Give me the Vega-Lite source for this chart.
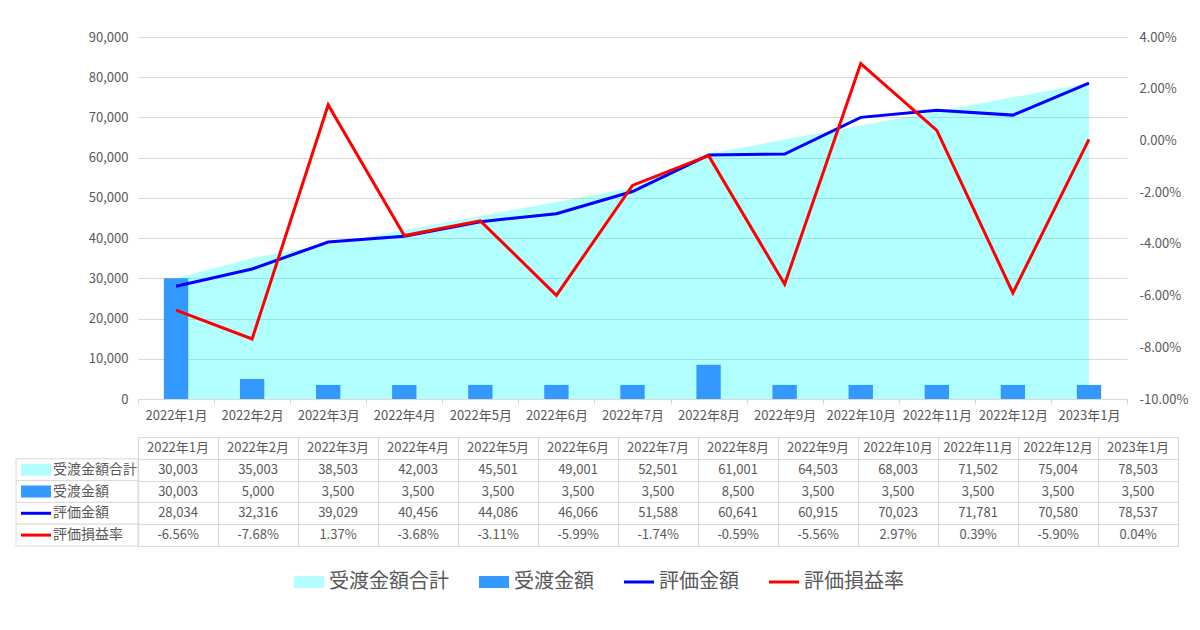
{
  "$schema": "https://vega.github.io/schema/vega-lite/v6.json",
  "background": "#FFFFFF",
  "padding": {"left": 15, "top": 31, "right": 5, "bottom": 5},
  "datasets": {
    "monthly": [
      {"月": "2022年1月", "受渡金額合計": 30003, "受渡金額": 30003, "評価金額": 28034, "評価損益率": -0.0656},
      {"月": "2022年2月", "受渡金額合計": 35003, "受渡金額": 5000, "評価金額": 32316, "評価損益率": -0.0768},
      {"月": "2022年3月", "受渡金額合計": 38503, "受渡金額": 3500, "評価金額": 39029, "評価損益率": 0.0137},
      {"月": "2022年4月", "受渡金額合計": 42003, "受渡金額": 3500, "評価金額": 40456, "評価損益率": -0.0368},
      {"月": "2022年5月", "受渡金額合計": 45501, "受渡金額": 3500, "評価金額": 44086, "評価損益率": -0.0311},
      {"月": "2022年6月", "受渡金額合計": 49001, "受渡金額": 3500, "評価金額": 46066, "評価損益率": -0.0599},
      {"月": "2022年7月", "受渡金額合計": 52501, "受渡金額": 3500, "評価金額": 51588, "評価損益率": -0.0174},
      {"月": "2022年8月", "受渡金額合計": 61001, "受渡金額": 8500, "評価金額": 60641, "評価損益率": -0.0059},
      {"月": "2022年9月", "受渡金額合計": 64503, "受渡金額": 3500, "評価金額": 60915, "評価損益率": -0.0556},
      {"月": "2022年10月", "受渡金額合計": 68003, "受渡金額": 3500, "評価金額": 70023, "評価損益率": 0.0297},
      {"月": "2022年11月", "受渡金額合計": 71502, "受渡金額": 3500, "評価金額": 71781, "評価損益率": 0.0039},
      {"月": "2022年12月", "受渡金額合計": 75004, "受渡金額": 3500, "評価金額": 70580, "評価損益率": -0.059},
      {"月": "2023年1月", "受渡金額合計": 78503, "受渡金額": 3500, "評価金額": 78537, "評価損益率": 0.0004}
    ],
    "series": [
      {"name": "受渡金額合計"},
      {"name": "受渡金額"},
      {"name": "評価金額"},
      {"name": "評価損益率"}
    ]
  },
  "columns": 2,
  "spacing": {"row": 38, "column": 0},
  "bounds": "flush",
  "concat": [
    {
      "width": 122,
      "height": 362,
      "data": {"name": "series"},
      "transform": [{"filter": "false"}],
      "mark": {"type": "point", "opacity": 0}
    },
    {
      "width": 989,
      "height": 362,
      "data": {"name": "monthly"},
      "layer": [
        {
          "layer": [
            {
              "mark": {"type": "area", "color": "#00FFFF", "opacity": 0.3},
              "encoding": {
                "x": {
                  "field": "月", "type": "ordinal", "sort": null,
                  "scale": {"type": "band", "paddingInner": 0, "paddingOuter": 0},
                  "axis": {
                    "title": null, "labelAngle": 0, "tickBand": "extent", "grid": false,
                    "domainColor": "#D9D9D9", "tickColor": "#D9D9D9", "tickSize": 5,
                    "labelFontSize": 13, "labelPadding": 5, "labelColor": "#595959"
                  }
                },
                "y": {
                  "field": "受渡金額合計", "type": "quantitative",
                  "scale": {"domain": [0, 90000], "nice": false},
                  "axis": {
                    "title": null, "values": [0, 10000, 20000, 30000, 40000, 50000, 60000, 70000, 80000, 90000],
                    "format": ",d", "domain": false, "ticks": false, "grid": true, "gridColor": "#D9D9D9",
                    "labelFontSize": 13, "labelPadding": 10, "labelColor": "#595959"
                  }
                }
              }
            },
            {
              "mark": {"type": "bar", "color": "#3399FF", "width": {"band": 0.32}},
              "encoding": {
                "x": {"field": "月", "type": "ordinal", "sort": null},
                "y": {"field": "受渡金額", "type": "quantitative"}
              }
            },
            {
              "mark": {"type": "line", "color": "#0000FF", "strokeWidth": 3},
              "encoding": {
                "x": {"field": "月", "type": "ordinal", "sort": null},
                "y": {"field": "評価金額", "type": "quantitative"}
              }
            }
          ]
        },
        {
          "mark": {"type": "line", "color": "#FF0000", "strokeWidth": 3},
          "encoding": {
            "x": {"field": "月", "type": "ordinal", "sort": null},
            "y": {
              "field": "評価損益率", "type": "quantitative",
              "scale": {"domain": [-0.1, 0.04], "nice": false, "zero": false},
              "axis": {
                "orient": "right", "title": null, "format": ".2%",
                "values": [-0.1, -0.08, -0.06, -0.04, -0.02, 0, 0.02, 0.04],
                "domain": false, "ticks": false, "grid": false,
                "labelFontSize": 13, "labelPadding": 12, "labelColor": "#595959"
              }
            }
          }
        }
      ],
      "resolve": {"scale": {"y": "independent"}}
    },
    {
      "width": 122,
      "height": 109,
      "data": {"name": "series"},
      "encoding": {
        "y": {
          "field": "name", "type": "nominal", "sort": null,
          "scale": {"type": "band", "domain": ["header", "受渡金額合計", "受渡金額", "評価金額", "評価損益率"], "paddingInner": 0, "paddingOuter": 0},
          "axis": null
        }
      },
      "layer": [
        {"mark": {"type": "rect", "fill": "#FFFFFF", "stroke": "#D9D9D9", "strokeWidth": 1}},
        {
          "mark": {"type": "point", "filled": true, "size": 900, "opacity": 1, "strokeWidth": 0, "xOffset": -41},
          "encoding": {
            "shape": {
              "field": "name", "type": "nominal",
              "scale": {
                "domain": ["受渡金額合計", "受渡金額", "評価金額", "評価損益率"],
                "range": ["M-1,-0.4H1V0.4H-1Z", "M-1,-0.4H1V0.4H-1Z", "M-1,-0.1H1V0.1H-1Z", "M-1,-0.1H1V0.1H-1Z"]
              },
              "legend": {
                "orient": "none", "legendX": 277, "legendY": 529, "direction": "horizontal", "title": null,
                "symbolSize": 900, "labelFontSize": 20, "labelColor": "#595959", "labelOffset": 4, "columnPadding": 29
              }
            },
            "color": {
              "field": "name", "type": "nominal",
              "scale": {
                "domain": ["受渡金額合計", "受渡金額", "評価金額", "評価損益率"],
                "range": ["#B3FFFF", "#3399FF", "#0000FF", "#FF0000"]
              },
              "legend": {
                "orient": "none", "legendX": 277, "legendY": 529, "direction": "horizontal", "title": null,
                "symbolSize": 900, "labelFontSize": 20, "labelColor": "#595959", "labelOffset": 4, "columnPadding": 29
              }
            }
          }
        },
        {
          "mark": {"type": "text", "align": "left", "baseline": "middle", "dx": -24, "fontSize": 14, "color": "#595959"},
          "encoding": {"text": {"field": "name", "type": "nominal"}}
        }
      ]
    },
    {
      "width": 1040,
      "height": 109,
      "view": {"stroke": "#D9D9D9"},
      "data": {"name": "monthly"},
      "encoding": {
        "x": {
          "field": "月", "type": "ordinal", "sort": null,
          "scale": {"type": "band", "paddingInner": 0, "paddingOuter": 0},
          "axis": {"orient": "top", "title": null, "labels": false, "ticks": false, "domain": false, "grid": true, "tickBand": "extent", "gridColor": "#D9D9D9"}
        }
      },
      "layer": [
        {
          "mark": {"type": "text", "fontSize": 13, "color": "#595959", "baseline": "middle"},
          "encoding": {
            "y": {
              "datum": "header", "type": "nominal",
              "scale": {"type": "band", "domain": ["header", "受渡金額合計", "受渡金額", "評価金額", "評価損益率"], "paddingInner": 0, "paddingOuter": 0},
              "axis": {"title": null, "labels": false, "ticks": false, "domain": false, "grid": true, "tickBand": "extent", "gridColor": "#D9D9D9"}
            },
            "text": {"field": "月", "type": "nominal"}
          }
        },
        {
          "transform": [
            {"fold": ["受渡金額合計", "受渡金額", "評価金額", "評価損益率"], "as": ["series", "value"]},
            {"filter": "datum.series !== '評価損益率'"}
          ],
          "mark": {"type": "text", "fontSize": 13, "color": "#595959", "baseline": "middle"},
          "encoding": {
            "y": {"field": "series", "type": "nominal"},
            "text": {"field": "value", "type": "quantitative", "format": ",d"}
          }
        },
        {
          "transform": [
            {"fold": ["受渡金額合計", "受渡金額", "評価金額", "評価損益率"], "as": ["series", "value"]},
            {"filter": "datum.series === '評価損益率'"}
          ],
          "mark": {"type": "text", "fontSize": 13, "color": "#595959", "baseline": "middle"},
          "encoding": {
            "y": {"field": "series", "type": "nominal"},
            "text": {"field": "value", "type": "quantitative", "format": ".2%"}
          }
        }
      ]
    }
  ],
  "config": {
    "font": "Noto Sans CJK JP",
    "locale": {
      "number": {"decimal": ".", "thousands": ",", "grouping": [3], "currency": ["$", ""], "minus": "-"}
    },
    "view": {"stroke": null},
    "axis": {"labelFont": "Noto Sans CJK JP"},
    "legend": {"labelFont": "Noto Sans CJK JP"},
    "text": {"font": "Noto Sans CJK JP"}
  }
}
